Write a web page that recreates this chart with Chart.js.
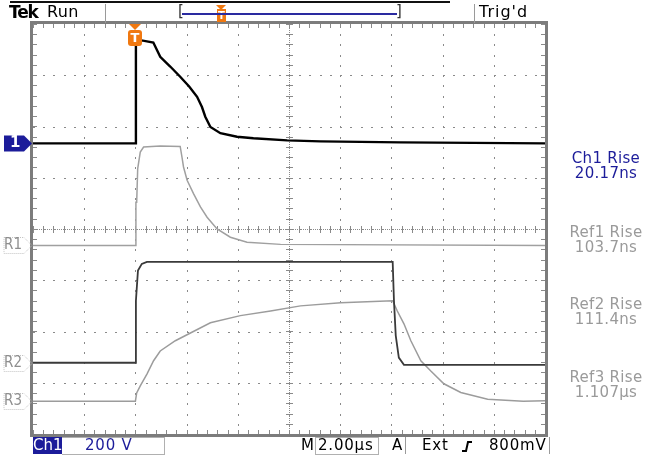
<!DOCTYPE html>
<html>
<head>
<meta charset="utf-8">
<script src="https://cdn.jsdelivr.net/npm/chart.js@4.4.1/dist/chart.umd.min.js"></script>
<style>
  body { margin: 0; background: #fff; }
  #wrap { position: relative; width: 663px; height: 456px; overflow: hidden; font-family: "DejaVu Sans", sans-serif; }
  canvas { position: absolute; left: 0; top: 0; }
  .t { position: absolute; white-space: nowrap; line-height: 1; font-size: 15px; letter-spacing: 0.8px; }
  .meas { position: absolute; width: 110px; left: 551px; text-align: center; font-size: 15px; line-height: 15px; letter-spacing: 0.3px; }
  .blue { color: #1c1c9a; }
  .gray { color: #9a9a9a; }
  .vl { position: absolute; width: 1px; background: #9a9a9a; }
</style>
</head>
<body>
<div id="wrap">
  <canvas id="scope" width="663" height="456"></canvas>

  <!-- header -->
  <div style="position:absolute;left:10px;top:1px;width:440px;height:2px;background:#111"></div>
  <div class="t" style="left:9px;top:4px;font-size:17px;font-weight:bold;letter-spacing:-1.2px">Tek</div>
  <div class="t" style="left:47px;top:4px;font-size:16px;letter-spacing:0.3px">Run</div>
  <div class="vl" style="left:105px;top:4px;height:19px"></div>
  <div class="t" style="left:178px;top:4px;color:#333">[</div>
  <div class="t" style="left:396px;top:4px;color:#333">]</div>
  <div style="position:absolute;left:182px;top:13px;width:215px;height:2px;background:#2a2aa0"></div>
  <div class="vl" style="left:474px;top:4px;height:19px"></div>
  <div class="t" style="left:479px;top:4px;font-size:16px;letter-spacing:1px">Trig'd</div>

  <!-- measurements -->
  <div class="meas blue" style="top:151px">Ch1 Rise<br>20.17ns</div>
  <div class="meas gray" style="top:225px">Ref1 Rise<br>103.7ns</div>
  <div class="meas gray" style="top:297px">Ref2 Rise<br>111.4ns</div>
  <div class="meas gray" style="top:370px">Ref3 Rise<br>1.107µs</div>

  <!-- bottom status bar -->
  <div class="t" style="left:33px;top:437px;width:29px;height:17px;background:#1c1c9a;color:#fff;text-align:center;line-height:17px;letter-spacing:0">Ch1</div>
  <div style="position:absolute;left:62px;top:437px;width:102px;height:16px;border:1px solid #b0b0b0;border-left:none"></div>
  <div class="t blue" style="left:85px;top:438px">200 V</div>
  <div class="t" style="left:301px;top:438px">M</div>
  <div style="position:absolute;left:315px;top:437px;width:62px;height:16px;border:1px solid #b0b0b0"></div>
  <div class="t" style="left:318px;top:438px">2.00µs</div>
  <div class="t" style="left:392px;top:438px">A</div>
  <div class="vl" style="left:405px;top:437px;height:17px"></div>
  <div class="t" style="left:422px;top:438px">Ext</div>
  <svg style="position:absolute;left:461px;top:440px" width="12" height="13"><path d="M1 11 L5 11 L7 2 L11 2" fill="none" stroke="#000" stroke-width="2"/></svg>
  <div class="t" style="left:489px;top:438px">800mV</div>
  <div class="vl" style="left:549px;top:437px;height:17px"></div>
</div>

<script>
// axes: time in µs (2 µs/div), vertical in divisions
const xTicks = [-4, -2, 0, 2, 4, 6, 8, 10, 12, 14, 16];
const yTicks = [-4, -3, -2, -1, 0, 1, 2, 3, 4];
const triggerTime = 0;

// Ch1 (live trace)
const ch1Time = [-4, 0, 0.02, 0.25, 0.7, 0.97, 1.36, 1.75, 2.1, 2.41, 2.6, 2.73, 2.93, 3.32, 3.97, 4.61, 5.93, 7.23, 10.36, 16];
const ch1Div  = [1.67, 1.67, 3.6, 3.68, 3.64, 3.36, 3.17, 2.97, 2.78, 2.58, 2.38, 2.19, 1.99, 1.87, 1.80, 1.77, 1.73, 1.71, 1.69, 1.67];

// Ref1
const ref1Time = [-4, 0, 0.02, 0.05, 0.09, 0.19, 0.32, 0.97, 1.75, 1.82, 1.88, 2.02, 2.27, 2.54, 2.8, 3.19, 3.71, 4.36, 5.67, 16];
const ref1Div  = [-0.32, -0.32, 0.52, 0.52, 1.18, 1.5, 1.6, 1.62, 1.61, 1.4, 1.21, 0.95, 0.69, 0.43, 0.23, 0.0, -0.16, -0.26, -0.30, -0.32];

// Ref2
const ref2Time = [-4, 0, 0.02, 0.1, 0.25, 0.45, 10.05, 10.1, 10.17, 10.29, 10.49, 16];
const ref2Div  = [-2.61, -2.61, -1.4, -0.81, -0.68, -0.64, -0.64, -1.4, -2.08, -2.51, -2.65, -2.65];

// Ref3
const ref3Time = [-4, 0, 0.05, 0.19, 0.45, 0.71, 0.97, 1.56, 2.15, 2.93, 4.1, 5.28, 6.45, 8.02, 10.05, 10.23, 10.49, 10.76, 11.15, 11.54, 12.05, 12.71, 13.76, 15.15, 16];
const ref3Div  = [-3.36, -3.36, -3.2, -3.06, -2.83, -2.57, -2.38, -2.18, -2.03, -1.83, -1.69, -1.6, -1.5, -1.44, -1.4, -1.6, -1.85, -2.18, -2.57, -2.77, -3.02, -3.19, -3.32, -3.36, -3.35];

const pts = (t, v) => t.map((x, i) => ({ x, y: v[i] }));

// graticule: dotted grid, center cross with ticks, frame with ticks
const graticule = {
  id: "graticule",
  beforeDatasetsDraw(chart) {
    const { ctx, chartArea: a, scales: { x, y } } = chart;
    const xStep = (xTicks[1] - xTicks[0]) / 5;
    const yStep = (yTicks[1] - yTicks[0]) / 5;
    const xMid = xTicks[5], yMid = yTicks[4];
    ctx.save();
    ctx.fillStyle = "#8a8a8a";
    // grid dots
    xTicks.slice(1, -1).forEach(tv => {
      const px = Math.round(x.getPixelForValue(tv));
      for (let v = yTicks[0]; v <= yTicks[yTicks.length - 1] + 1e-6; v += yStep) {
        ctx.fillRect(px, Math.round(y.getPixelForValue(v)), 1, 2);
      }
    });
    yTicks.slice(1, -1).forEach(tv => {
      const py = Math.round(y.getPixelForValue(tv));
      for (let v = xTicks[0]; v <= xTicks[xTicks.length - 1] + 1e-6; v += xStep) {
        ctx.fillRect(Math.round(x.getPixelForValue(v)), py, 2, 1);
      }
    });
    // center cross
    const cx = Math.round(x.getPixelForValue(xMid)), cy = Math.round(y.getPixelForValue(yMid));
    for (let p = a.top; p < a.bottom; p += 2) ctx.fillRect(cx, p, 1, 1);
    for (let p = a.left; p < a.right; p += 2) ctx.fillRect(p, cy, 1, 1);
    for (let v = yTicks[0]; v <= yTicks[yTicks.length - 1] + 1e-6; v += yStep) {
      ctx.fillRect(cx - 3, Math.round(y.getPixelForValue(v)), 7, 1);
    }
    for (let v = xTicks[0]; v <= xTicks[xTicks.length - 1] + 1e-6; v += xStep) {
      ctx.fillRect(Math.round(x.getPixelForValue(v)), cy - 3, 1, 7);
    }
    // frame ticks
    for (let v = xTicks[0]; v <= xTicks[xTicks.length - 1] + 1e-6; v += xStep) {
      const px = Math.round(x.getPixelForValue(v));
      ctx.fillRect(px, a.top, 1, 4);
      ctx.fillRect(px, a.bottom - 4, 1, 4);
    }
    for (let v = yTicks[0]; v <= yTicks[yTicks.length - 1] + 1e-6; v += yStep) {
      const py = Math.round(y.getPixelForValue(v));
      ctx.fillRect(a.left, py, 4, 1);
      ctx.fillRect(a.right - 4, py, 4, 1);
    }
    // frame
    ctx.strokeStyle = "#7c7c7c";
    ctx.lineWidth = 3;
    ctx.strokeRect(a.left - 1.5, a.top - 1.5, a.right - a.left + 3, a.bottom - a.top + 3);
    ctx.restore();
  },
  afterDatasetsDraw(chart) {
    const { ctx, chartArea: a, scales: { x, y } } = chart;
    ctx.save();
    // trigger marker on top edge
    const tx = Math.round(x.getPixelForValue(triggerTime));
    ctx.fillStyle = "#f07810";
    ctx.beginPath();
    ctx.moveTo(tx - 6, a.top); ctx.lineTo(tx + 6, a.top); ctx.lineTo(tx, a.top + 6); ctx.fill();
    ctx.beginPath();
    ctx.roundRect(tx - 7, a.top + 6, 14, 16, 3); ctx.fill();
    ctx.fillStyle = "#fff";
    ctx.font = "bold 13px DejaVu Sans";
    ctx.textAlign = "center"; ctx.textBaseline = "middle";
    ctx.fillText("T", tx, a.top + 15);
    // header trigger marker
    ctx.fillStyle = "#f07810";
    ctx.beginPath();
    ctx.moveTo(216, 5); ctx.lineTo(226, 5); ctx.lineTo(221, 10); ctx.fill();
    ctx.fillRect(217, 9, 9, 13);
    ctx.fillStyle = "#fff";
    ctx.font = "bold 10px DejaVu Sans";
    ctx.fillText("T", 221.5, 16);

    // channel markers at left edge
    const mark = (val, label, filled) => {
      const py = Math.round(y.getPixelForValue(val)) + 0.5;
      ctx.beginPath();
      ctx.moveTo(4, py - 8); ctx.lineTo(24, py - 8); ctx.lineTo(a.left - 1, py);
      ctx.lineTo(24, py + 8); ctx.lineTo(4, py + 8); ctx.closePath();
      if (filled) {
        ctx.fillStyle = "#1c1c9a"; ctx.fill();
        ctx.fillStyle = "#fff";
        ctx.font = "bold 15px DejaVu Sans";
      } else {
        ctx.strokeStyle = "#c4c4c4"; ctx.lineWidth = 1; ctx.setLineDash([1, 1]); ctx.stroke(); ctx.setLineDash([]);
        ctx.fillStyle = "#8e8e8e";
        ctx.font = "15px DejaVu Sans Condensed";
      }
      ctx.textAlign = "left"; ctx.textBaseline = "middle";
      ctx.fillText(label, filled ? 10 : 4, py);
    };
    mark(ch1Div[0], "1", true);
    mark(ref1Div[0], "R1", false);
    mark(ref2Div[0], "R2", false);
    mark(ref3Div[0], "R3", false);
    ctx.restore();
  }
};

new Chart(document.getElementById("scope"), {
  type: "line",
  data: {
    datasets: [
      { label: "Ch1", data: pts(ch1Time, ch1Div), borderColor: "#000", borderWidth: 2.4, order: 0 },
      { label: "Ref2", data: pts(ref2Time, ref2Div), borderColor: "#3a3a3a", borderWidth: 1.8, order: 1 },
      { label: "Ref1", data: pts(ref1Time, ref1Div), borderColor: "#a0a0a0", borderWidth: 1.5, order: 2 },
      { label: "Ref3", data: pts(ref3Time, ref3Div), borderColor: "#9c9c9c", borderWidth: 1.5, order: 3 },
    ],
  },
  options: {
    responsive: false,
    animation: false,
    events: [],
    layout: { padding: { left: 33, right: 118, top: 24, bottom: 22 } },
    elements: { point: { radius: 0 }, line: { tension: 0 } },
    plugins: { legend: { display: false }, tooltip: { enabled: false } },
    scales: {
      x: { type: "linear", min: xTicks[0], max: xTicks[xTicks.length - 1], display: false },
      y: { type: "linear", min: yTicks[0], max: yTicks[yTicks.length - 1], display: false },
    },
  },
  plugins: [graticule],
});
</script>
</body>
</html>
